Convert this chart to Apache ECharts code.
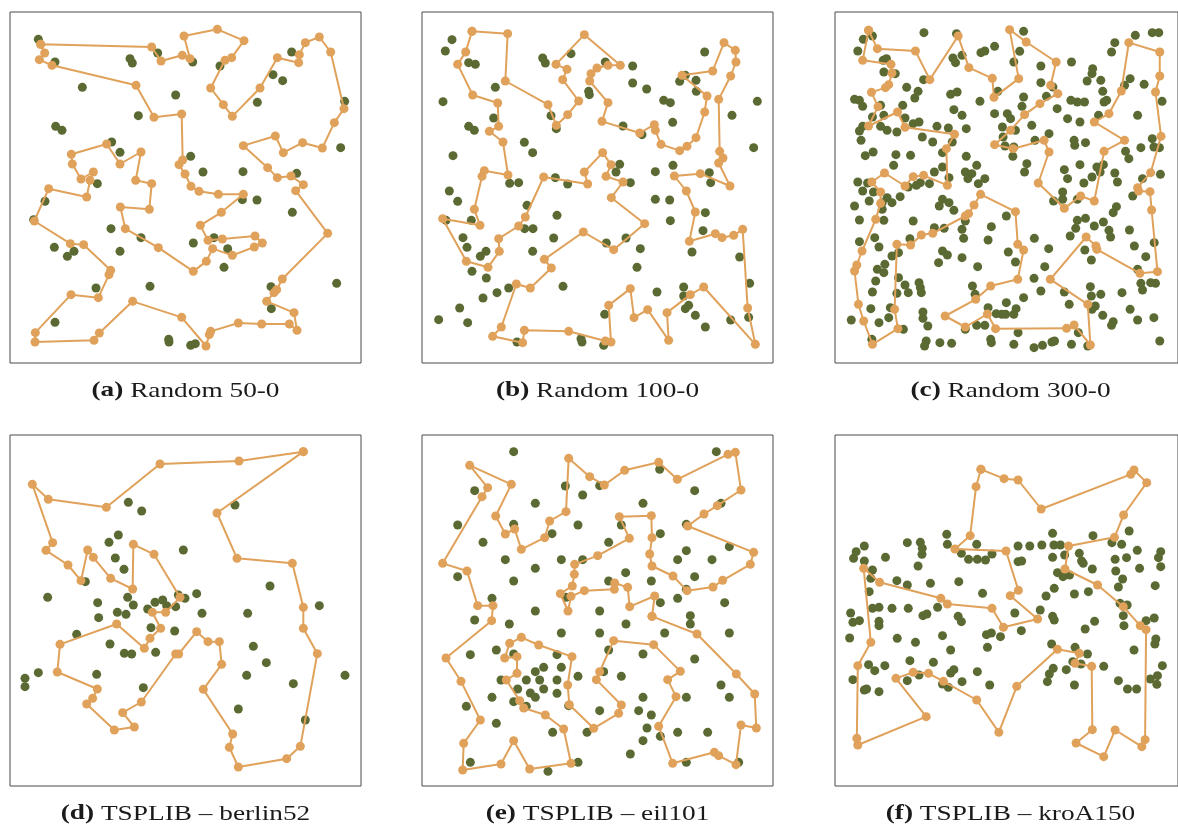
<!DOCTYPE html>
<html><head><meta charset="utf-8">
<script src="https://cdn.jsdelivr.net/npm/echarts@6/dist/echarts.min.js"></script>
<style>html,body{margin:0;padding:0;background:#fff}#c{width:1178px;height:825px}</style>
</head><body><div id="c"></div>
<script>
// Coordinates are in panel units (0..1053 across each square panel, y downward)
const tourA=[[92,97],[425,105],[453,147],[517,130],[540,140],[522,72],[622,52],[702,86],[665,137],[645,145],[602,228],[640,278],[667,313],[750,228],[802,137],[866,152],[868,128],[886,92],[928,75],[962,120],[1002,290],[973,332],[937,408],[878,392],[820,422],[796,372],[700,401],[773,467],[802,497],[843,492],[880,518],[857,536],[953,664],[817,801],[800,833],[792,842],[770,868],[852,902],[861,955],[838,936],[755,936],[685,933],[602,958],[598,968],[588,1002],[515,916],[368,868],[268,963],[252,985],[75,990],[76,962],[183,848],[265,857],[297,788],[302,775],[221,698],[181,695],[73,627],[116,530],[230,555],[240,505],[250,480],[213,501],[187,456],[184,427],[290,396],[330,456],[393,420],[377,505],[425,515],[418,592],[331,585],[346,650],[445,707],[550,778],[589,748],[608,710],[667,730],[733,705],[757,693],[735,672],[637,681],[594,685],[571,640],[634,601],[700,547],[625,547],[567,538],[543,523],[525,486],[507,458],[518,444],[515,306],[432,316],[378,220],[126,160],[88,143],[104,123]];
const otherA=[[85,82],[135,150],[360,140],[367,153],[443,123],[548,150],[630,162],[217,226],[497,249],[385,311],[742,271],[789,188],[818,206],[845,120],[1004,268],[137,343],[156,355],[305,390],[330,421],[542,433],[579,480],[699,479],[860,484],[992,407],[262,515],[105,568],[71,623],[697,563],[741,564],[847,601],[303,650],[393,677],[612,677],[550,693],[653,710],[133,706],[192,718],[172,733],[330,718],[642,766],[258,828],[420,823],[783,824],[784,890],[980,814],[135,931],[476,982],[477,990],[542,1000],[556,995]];

const tourB=[[150,58],[257,65],[250,207],[378,278],[403,340],[437,308],[470,267],[422,203],[435,172],[402,157],[487,68],[595,160],[558,160],[525,168],[507,185],[503,207],[558,272],[540,328],[653,363],[697,338],[700,355],[717,397],[773,416],[795,403],[822,377],[848,300],[855,252],[780,190],[872,177],[906,92],[940,115],[942,150],[926,192],[890,262],[893,418],[903,438],[890,453],[924,522],[835,485],[757,492],[793,537],[820,600],[802,688],[880,665],[900,677],[935,670],[962,652],[977,888],[1000,997],[845,825],[805,848],[735,902],[740,985],[677,893],[636,917],[625,830],[560,880],[567,990],[550,987],[440,958],[307,955],[302,992],[212,973],[238,945],[283,816],[325,828],[388,768],[367,742],[484,660],[575,713],[668,635],[568,557],[603,510],[552,493],[567,458],[542,422],[487,480],[497,516],[365,495],[310,615],[290,642],[230,680],[232,718],[198,766],[133,748],[62,620],[174,640],[157,592],[180,493],[187,476],[258,489],[243,390],[202,358],[230,343],[227,273],[152,249],[107,157],[131,120]];
const otherB=[[90,83],[70,117],[140,152],[160,157],[362,138],[370,153],[447,125],[550,150],[632,162],[848,120],[790,190],[773,208],[822,205],[823,238],[632,213],[674,231],[220,226],[500,238],[502,248],[725,265],[745,272],[63,269],[1006,268],[215,318],[387,311],[930,310],[752,331],[603,342],[660,368],[403,350],[140,343],[157,355],[93,431],[307,391],[332,422],[995,407],[593,457],[582,480],[753,460],[700,479],[862,482],[866,512],[263,514],[290,512],[400,497],[437,516],[625,512],[82,537],[107,568],[700,562],[743,564],[315,580],[405,610],[850,602],[745,626],[72,625],[148,625],[308,650],[333,650],[843,656],[395,678],[612,678],[123,677],[553,693],[655,710],[135,706],[192,718],[175,733],[332,718],[810,720],[953,735],[645,766],[150,778],[193,798],[260,828],[423,823],[225,842],[183,858],[705,840],[785,825],[785,852],[800,880],[790,890],[983,814],[113,888],[50,923],[137,932],[548,907],[820,910],[926,924],[980,916],[850,945],[477,980],[480,990],[545,1000],[285,990]];

const tourC=[[103,55],[85,145],[172,157],[175,183],[165,218],[155,227],[112,241],[132,284],[103,342],[192,300],[215,346],[367,367],[342,410],[345,520],[272,490],[240,494],[215,522],[152,483],[113,510],[140,540],[140,574],[125,622],[83,717],[67,759],[60,777],[72,877],[88,927],[115,997],[193,950],[183,892],[190,697],[232,699],[265,669],[300,664],[400,612],[410,605],[427,579],[447,547],[554,599],[561,697],[579,714],[561,802],[478,822],[432,862],[338,912],[400,945],[468,906],[493,950],[711,949],[734,939],[784,999],[776,877],[661,802],[771,675],[801,702],[804,712],[936,784],[990,779],[972,594],[967,539],[932,537],[929,527],[969,482],[1001,373],[984,240],[997,192],[997,120],[902,92],[879,237],[841,305],[796,330],[889,385],[826,418],[796,567],[754,552],[704,589],[624,513],[657,420],[642,385],[547,410],[490,398],[539,355],[582,308],[629,275],[684,245],[662,220],[679,150],[587,90],[536,53],[564,200],[488,256],[483,199],[411,167],[378,72],[291,203],[247,117],[130,110]];
const otherC=[[87,82],[115,72],[70,117],[273,62],[373,65],[362,138],[390,130],[370,152],[448,122],[460,117],[490,103],[148,145],[158,140],[150,180],[185,185],[272,203],[220,226],[255,238],[245,258],[355,247],[375,240],[445,268],[500,238],[60,262],[75,265],[85,283],[140,280],[208,280],[365,293],[390,310],[490,305],[115,315],[150,310],[215,318],[240,335],[258,330],[140,343],[160,355],[85,343],[75,357],[190,360],[313,343],[348,348],[403,350],[80,385],[268,375],[300,390],[360,390],[93,431],[117,420],[187,428],[232,430],[330,422],[403,433],[435,460],[180,460],[305,480],[330,465],[350,497],[400,480],[420,485],[408,500],[460,500],[440,515],[70,510],[100,513],[262,512],[290,515],[225,525],[250,520],
[579,58],[567,118],[549,150],[632,162],[726,150],[791,170],[789,185],[774,207],[816,205],[822,238],[632,212],[669,225],[649,253],[579,255],[574,283],[682,290],[724,265],[744,270],[766,270],[529,305],[539,320],[514,345],[554,355],[604,340],[516,375],[522,402],[549,405],[546,433],[614,385],[657,365],[714,320],[752,330],[809,310],[826,270],[834,265],[734,385],[736,400],[769,392],[889,220],[906,200],[949,217],[929,310],[859,92],[849,120],[922,70],[974,62],[994,62],[1004,268],[974,380],[979,405],[996,407],[939,407],[892,418],[902,440],[859,483],[867,510],[824,458],[804,465],[814,480],[752,458],[704,473],[714,500],[764,513],[789,495],[589,455],[582,480],[999,487],[944,500],
[85,537],[118,540],[200,554],[160,557],[145,572],[175,572],[105,567],[60,582],[145,592],[75,624],[150,625],[240,627],[330,562],[350,572],[320,582],[365,595],[400,627],[305,647],[335,649],[390,652],[395,679],[480,644],[470,684],[122,677],[135,705],[75,689],[230,680],[195,722],[175,732],[330,717],[345,729],[318,752],[390,737],[438,764],[130,772],[153,757],[150,782],[125,807],[195,797],[215,819],[115,840],[190,844],[225,842],[258,812],[262,827],[265,842],[422,822],[430,847],[50,924],[110,890],[135,932],[165,917],[270,900],[270,919],[285,942],[170,887],[210,952],[470,887],[495,905],[435,940],[460,940],[400,952],[478,982],[480,992],[280,987],[275,1002],[322,992],[358,994],[113,982],
[699,540],[699,562],[671,567],[744,562],[914,552],[864,584],[854,602],[744,625],[769,619],[739,649],[796,642],[824,630],[841,655],[846,675],[904,654],[722,672],[919,702],[980,692],[954,734],[526,612],[612,679],[656,710],[767,714],[787,744],[532,720],[554,750],[644,764],[611,799],[632,837],[704,840],[784,824],[787,852],[816,847],[881,842],[929,772],[939,814],[944,834],[969,812],[984,814],[526,872],[579,857],[556,890],[549,907],[524,907],[719,877],[799,882],[789,892],[822,910],[854,929],[849,940],[906,892],[929,924],[979,917],[747,962],[562,962],[549,997],[611,1007],[637,1000],[666,990],[674,987],[726,997],[776,1002],[997,987],[512,907]];

const tourD=[[880,50],[687,78],[450,87],[289,217],[115,193],[67,148],[128,323],[108,346],[174,390],[213,437],[233,345],[250,367],[302,430],[368,462],[370,328],[432,358],[510,487],[467,532],[427,532],[452,580],[420,610],[403,640],[320,567],[150,628],[142,711],[262,762],[248,790],[230,807],[313,885],[373,876],[338,833],[394,801],[497,657],[506,657],[560,590],[594,620],[628,620],[635,688],[580,763],[668,897],[658,937],[685,996],[830,971],[871,934],[922,656],[880,580],[880,517],[847,385],[681,370],[621,234]];
const otherD=[[355,202],[395,228],[675,210],[325,300],[297,322],[316,369],[342,403],[520,345],[226,440],[113,487],[263,503],[353,487],[370,510],[505,480],[525,490],[560,476],[497,515],[458,495],[435,502],[413,522],[470,512],[322,532],[348,538],[266,548],[576,535],[713,535],[780,453],[928,512],[200,598],[423,578],[494,588],[300,627],[343,655],[365,657],[437,652],[730,634],[769,683],[85,713],[45,730],[45,755],[260,718],[710,721],[850,746],[1005,721],[400,758],[685,822],[886,855]];

const tourE=[[690,544],[825,597],[943,717],[998,777],[1003,879],[957,870],[942,989],[890,962],[877,952],[752,985],[710,874],[762,785],[737,734],[775,709],[695,629],[575,617],[533,710],[523,734],[598,810],[590,835],[515,880],[442,809],[437,750],[450,665],[350,630],[298,607],[263,625],[248,669],[285,665],[285,715],[253,735],[293,797],[305,819],[370,840],[425,882],[447,985],[323,1002],[275,917],[237,987],[122,1005],[125,925],[175,855],[117,739],[72,669],[209,557],[213,512],[167,512],[135,408],[62,385],[180,185],[197,158],[143,91],[268,148],[221,243],[250,297],[278,282],[298,343],[368,308],[383,258],[432,230],[440,70],[503,125],[547,150],[608,106],[710,82],[766,133],[918,58],[940,52],[957,165],[886,212],[846,237],[797,273],[995,352],[985,388],[902,436],[873,456],[795,467],[753,423],[690,393],[683,357],[690,308],[688,242],[592,245],[622,310],[527,362],[458,388],[457,418],[451,453],[415,476],[438,528],[447,484],[487,467],[577,463],[578,444],[617,457],[623,515],[698,483]];
const otherE=[[275,50],[883,50],[713,103],[158,167],[430,153],[533,152],[482,180],[818,167],[340,205],[663,205],[897,205],[107,270],[275,268],[468,270],[598,270],[793,268],[390,296],[715,296],[183,322],[560,322],[922,335],[793,347],[250,374],[418,374],[482,374],[767,374],[870,374],[340,400],[611,413],[107,425],[275,438],[560,438],[688,438],[818,425],[793,463],[210,490],[432,487],[715,503],[767,490],[908,503],[340,528],[533,528],
[158,555],[262,567],[612,567],[805,542],[805,567],[418,594],[533,594],[728,594],[922,594],[145,659],[223,645],[275,657],[405,659],[560,645],[663,657],[818,672],[340,710],[365,697],[418,697],[545,710],[598,724],[468,724],[237,735],[313,735],[353,735],[405,735],[287,762],[325,774],[340,787],[365,762],[405,775],[210,787],[275,800],[313,814],[133,814],[663,787],[793,787],[897,750],[922,787],[533,827],[650,827],[688,840],[675,879],[715,904],[767,892],[857,892],[223,865],[392,892],[495,892],[663,917],[625,957],[145,982],[378,1009],[468,982],[793,982],[950,982],[440,812]];

const tourF=[[448,103],[519,131],[562,135],[633,222],[908,118],[918,105],[957,143],[886,240],[858,307],[717,333],[706,402],[806,450],[885,515],[937,572],[955,584],[952,914],[942,935],[860,885],[825,965],[740,924],[790,884],[788,694],[737,685],[750,655],[683,643],[558,754],[503,892],[435,795],[333,739],[287,715],[240,712],[187,730],[280,845],[70,930],[67,910],[70,692],[110,622],[88,400],[137,442],[325,490],[345,507],[482,520],[517,577],[622,552],[538,482],[563,466],[525,348],[368,342],[415,302],[433,155]];
const otherF=[[343,298],[345,328],[668,295],[792,302],[903,288],[90,333],[65,350],[57,370],[90,378],[155,367],[222,323],[262,322],[268,340],[267,358],[255,393],[115,405],[110,430],[190,437],[222,450],[293,445],[380,440],[435,328],[388,355],[410,373],[437,373],[462,375],[482,357],[562,333],[598,333],[635,330],[672,330],[692,330],[562,380],[573,378],[668,367],[705,360],[750,355],[757,378],[762,385],[790,402],[850,323],[880,328],[928,346],[895,368],[860,373],[862,408],[883,432],[935,400],[1000,350],[993,368],[1000,395],[683,413],[700,425],[720,420],[673,460],[648,483],[735,477],[778,470],[870,456],[983,452],[453,475],[105,470],[115,520],[135,517],[175,520],[225,520],[315,517],[630,525],[875,505],[897,510],
[48,534],[55,562],[75,557],[135,559],[135,572],[270,542],[282,537],[378,544],[388,560],[465,599],[480,594],[508,605],[468,637],[552,534],[572,587],[668,544],[673,555],[797,559],[768,582],[885,542],[887,572],[955,557],[980,549],[985,612],[982,627],[918,645],[45,609],[191,610],[247,622],[330,602],[355,645],[665,627],[737,637],[775,657],[730,680],[755,687],[710,704],[670,700],[658,717],[652,740],[735,750],[825,694],[870,737],[898,762],[926,762],[968,732],[990,722],[1005,692],[988,748],[103,689],[122,707],[153,692],[230,677],[302,682],[55,734],[90,765],[97,762],[135,770],[222,737],[258,720],[330,747],[348,757],[355,714],[365,704],[390,740],[437,710],[475,750]];

const panelTags=['(a)','(b)','(c)','(d)','(e)','(f)'];
const panelTitles=['Random 50-0','Random 100-0','Random 300-0','TSPLIB \u2013 berlin52','TSPLIB \u2013 eil101','TSPLIB \u2013 kroA150'];

const tours=[tourA,tourB,tourC,tourD,tourE,tourF];
const others=[otherA,otherB,otherC,otherD,otherE,otherF];

// layout
const lefts=[10,422,835,10,422,835];
const tops=[12,12,12,435,435,435];
const SIZE=351, RANGE=1053;
const capY=[391,391,391,814,814,814];
const ORANGE='#E0A15A', GREEN='#5B6A32';

const chart=echarts.init(document.getElementById('c'),null,{renderer:'canvas'});
const grid=[],xAxis=[],yAxis=[],series=[],graphic=[];
for(let i=0;i<6;i++){
  grid.push({left:lefts[i],top:tops[i],width:SIZE,height:SIZE,show:true,borderColor:'#4a4a4a',borderWidth:1,backgroundColor:'#fff',containLabel:false});
  xAxis.push({type:'value',gridIndex:i,min:0,max:RANGE,show:false});
  yAxis.push({type:'value',gridIndex:i,min:0,max:RANGE,inverse:true,show:false});
  series.push({type:'scatter',xAxisIndex:i,yAxisIndex:i,data:others[i],symbol:'circle',symbolSize:9,itemStyle:{color:GREEN,opacity:1},silent:true,z:2});
  series.push({type:'line',xAxisIndex:i,yAxisIndex:i,data:tours[i].concat([tours[i][0]]),symbol:'circle',symbolSize:9,showSymbol:true,showAllSymbol:true,
    itemStyle:{color:ORANGE,opacity:1},lineStyle:{color:ORANGE,width:2},silent:true,z:3});
  graphic.push({type:'text',x:lefts[i]+SIZE/2,y:capY[i],scaleX:1.3,scaleY:1,style:{
    text:'{b|'+panelTags[i]+'} '+panelTitles[i],
    rich:{b:{fontFamily:'Liberation Serif',fontSize:21,fontWeight:'bold',fill:'#1a1a1a'}},
    fontFamily:'Liberation Serif',fontSize:21,fill:'#1a1a1a',
    textAlign:'center',textVerticalAlign:'middle',align:'center',verticalAlign:'middle'}});
}
chart.setOption({animation:false,grid,xAxis,yAxis,series,graphic});
</script></body></html>
